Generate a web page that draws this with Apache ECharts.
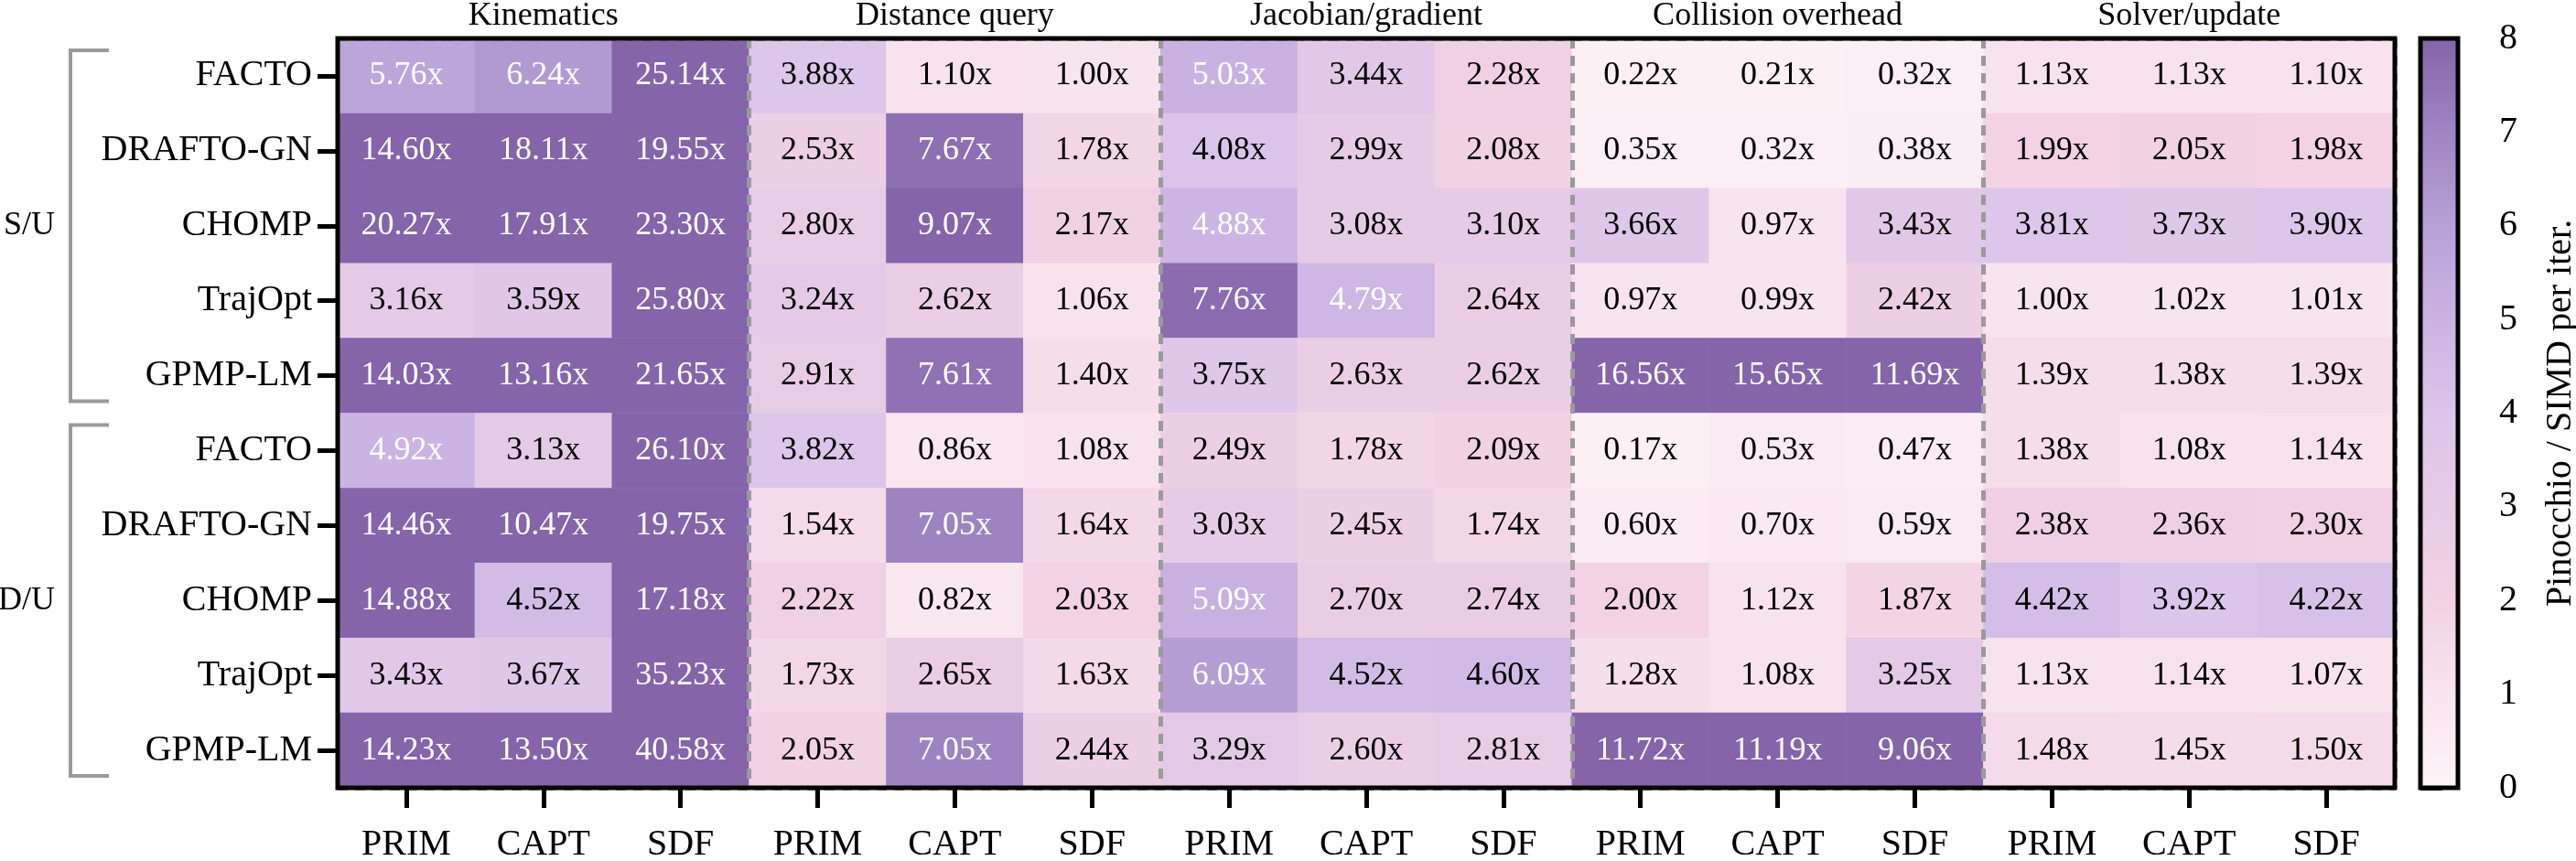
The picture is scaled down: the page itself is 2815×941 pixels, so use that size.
<!DOCTYPE html>
<html>
<head>
<meta charset="utf-8">
<script src="https://cdn.jsdelivr.net/npm/echarts@6/dist/echarts.min.js"></script>
<style>
  html, body { margin: 0; padding: 0; background: #fff; }
  #chart { width: 2815px; height: 941px; }
</style>
</head>
<body>
<div id="chart"></div>
<script>
// speedup of Pinocchio vs SIMD per iteration, two setups (S/U, D/U)
var groups = ["Kinematics", "Distance query", "Jacobian/gradient", "Collision overhead", "Solver/update"];
var backends = ["PRIM", "CAPT", "SDF"];
var planners = ["FACTO", "DRAFTO-GN", "CHOMP", "TrajOpt", "GPMP-LM"];
var modes = ["S/U", "D/U"];

// one row per planner, 15 columns = groups x backends
var suValues = [
    [5.76, 6.24, 25.14, 3.88, 1.10, 1.00, 5.03, 3.44, 2.28, 0.22, 0.21, 0.32, 1.13, 1.13, 1.10],
    [14.60, 18.11, 19.55, 2.53, 7.67, 1.78, 4.08, 2.99, 2.08, 0.35, 0.32, 0.38, 1.99, 2.05, 1.98],
    [20.27, 17.91, 23.30, 2.80, 9.07, 2.17, 4.88, 3.08, 3.10, 3.66, 0.97, 3.43, 3.81, 3.73, 3.90],
    [3.16, 3.59, 25.80, 3.24, 2.62, 1.06, 7.76, 4.79, 2.64, 0.97, 0.99, 2.42, 1.00, 1.02, 1.01],
    [14.03, 13.16, 21.65, 2.91, 7.61, 1.40, 3.75, 2.63, 2.62, 16.56, 15.65, 11.69, 1.39, 1.38, 1.39]
];
var duValues = [
    [4.92, 3.13, 26.10, 3.82, 0.86, 1.08, 2.49, 1.78, 2.09, 0.17, 0.53, 0.47, 1.38, 1.08, 1.14],
    [14.46, 10.47, 19.75, 1.54, 7.05, 1.64, 3.03, 2.45, 1.74, 0.60, 0.70, 0.59, 2.38, 2.36, 2.30],
    [14.88, 4.52, 17.18, 2.22, 0.82, 2.03, 5.09, 2.70, 2.74, 2.00, 1.12, 1.87, 4.42, 3.92, 4.22],
    [3.43, 3.67, 35.23, 1.73, 2.65, 1.63, 6.09, 4.52, 4.60, 1.28, 1.08, 3.25, 1.13, 1.14, 1.07],
    [14.23, 13.50, 40.58, 2.05, 7.05, 2.44, 3.29, 2.60, 2.81, 11.72, 11.19, 9.06, 1.48, 1.45, 1.50]
];
var colorMin = 0, colorMax = 8;
var palette = ["#fdf3f7", "#f8e4ee", "#f2d2e4", "#e7cbe6", "#dbc5ea", "#cab3e2", "#b7a0d6", "#9f85c3", "#8564aa"];

var FONT = "Liberation Serif";
var GRID = {left: 369, top: 42, width: 2248, height: 819};
var SEP = {color: "#9a9a9a", width: 5, type: [11, 8]};

var xKeys = [], yKeys = [], cells = [];
groups.forEach(function (g) { backends.forEach(function (b) { xKeys.push(g + "|" + b); }); });
modes.forEach(function (m) { planners.forEach(function (p) { yKeys.push(m + "|" + p); }); });
[suValues, duValues].forEach(function (block, m) {
    block.forEach(function (row, p) {
        row.forEach(function (v, c) { cells.push([c, m * planners.length + p, v]); });
    });
});

var afterBar = function (s) { return s.split("|")[1]; };
var rowH = GRID.height / yKeys.length;
// gray bracket next to each setup block
var bracket = function (i) {
    var y0 = GRID.top + i * planners.length * rowH + 13, y1 = GRID.top + (i + 1) * planners.length * rowH - 13;
    return {type: "polyline", shape: {points: [[119, y0], [77, y0], [77, y1], [119, y1]]},
        style: {stroke: "#9a9a9a", lineWidth: 4, fill: null}};
};

var chart = echarts.init(document.getElementById("chart"), null, {renderer: "canvas"});
chart.setOption({
    backgroundColor: "#fff",
    animation: false,
    textStyle: {fontFamily: FONT},
    grid: [
        {left: GRID.left, top: GRID.top, width: GRID.width, height: GRID.height, show: true, z: 6,
            outerBoundsMode: "none", containLabel: false,
            backgroundColor: "transparent", borderColor: "#000", borderWidth: 5},
        {left: 2645, top: GRID.top, width: 41, height: GRID.height, show: true, z: 6,
            outerBoundsMode: "none", containLabel: false,
            backgroundColor: "transparent", borderColor: "#000", borderWidth: 5}
    ],
    xAxis: [
        {type: "category", gridIndex: 0, data: xKeys, position: "bottom", z: 5,
            axisLine: {show: false},
            axisTick: {show: true, alignWithLabel: true, length: 22, lineStyle: {color: "#000", width: 5}},
            axisLabel: {formatter: afterBar, fontFamily: FONT, fontSize: 40, color: "#000", margin: 42},
            splitLine: {show: true, interval: function (i) { return i > 0 && i % 3 === 0; }, lineStyle: SEP}},
        {type: "category", gridIndex: 0, data: groups, position: "top",
            axisLine: {show: false}, axisTick: {show: false},
            axisLabel: {fontFamily: FONT, fontSize: 36, color: "#000", margin: 6}},
        {type: "value", gridIndex: 1, show: false}
    ],
    yAxis: [
        {type: "category", gridIndex: 0, data: yKeys, inverse: true, z: 5,
            axisLine: {show: false},
            axisTick: {show: true, alignWithLabel: true, length: 22, lineStyle: {color: "#000", width: 5}},
            axisLabel: {formatter: afterBar, fontFamily: FONT, fontSize: 40, color: "#000", margin: 28},
            splitLine: {show: true, interval: function (i) { return i === planners.length; }, lineStyle: SEP}},
        {type: "category", gridIndex: 0, data: modes, inverse: true, position: "left", offset: 300,
            axisLine: {show: false}, axisTick: {show: false},
            axisLabel: {fontFamily: FONT, fontSize: 36, color: "#000", margin: 9}},
        {type: "value", gridIndex: 1, position: "right", min: colorMin, max: colorMax, interval: 1,
            axisLine: {show: false}, splitLine: {show: false},
            axisTick: {show: true, length: 24, lineStyle: {color: "#000", width: 5}},
            axisLabel: {fontFamily: FONT, fontSize: 40, color: "#000", margin: 45},
            name: "Pinocchio / SIMD per iter.", nameLocation: "middle", nameRotate: 90, nameGap: 92,
            nameTextStyle: {fontFamily: FONT, fontSize: 40, color: "#000"}}
    ],
    visualMap: {
        type: "continuous", min: colorMin, max: colorMax, seriesIndex: 0, calculable: false,
        orient: "vertical", left: 2645, top: GRID.top, itemWidth: 41, itemHeight: GRID.height,
        padding: 0, hoverLink: false, inRange: {color: palette}
    },
    series: [{
        type: "heatmap", xAxisIndex: 0, yAxisIndex: 0, data: cells,
        label: {
            show: true,
            formatter: function (p) {
                var v = p.value[2];
                return (v > 4.7 ? "{w|" : "{k|") + v.toFixed(2) + "x}";
            },
            rich: {
                w: {color: "#fff", fontFamily: FONT, fontSize: 36},
                k: {color: "#000", fontFamily: FONT, fontSize: 36}
            }
        },
        emphasis: {disabled: true}
    }],
    graphic: [bracket(0), bracket(1)]
});
</script>
</body>
</html>
